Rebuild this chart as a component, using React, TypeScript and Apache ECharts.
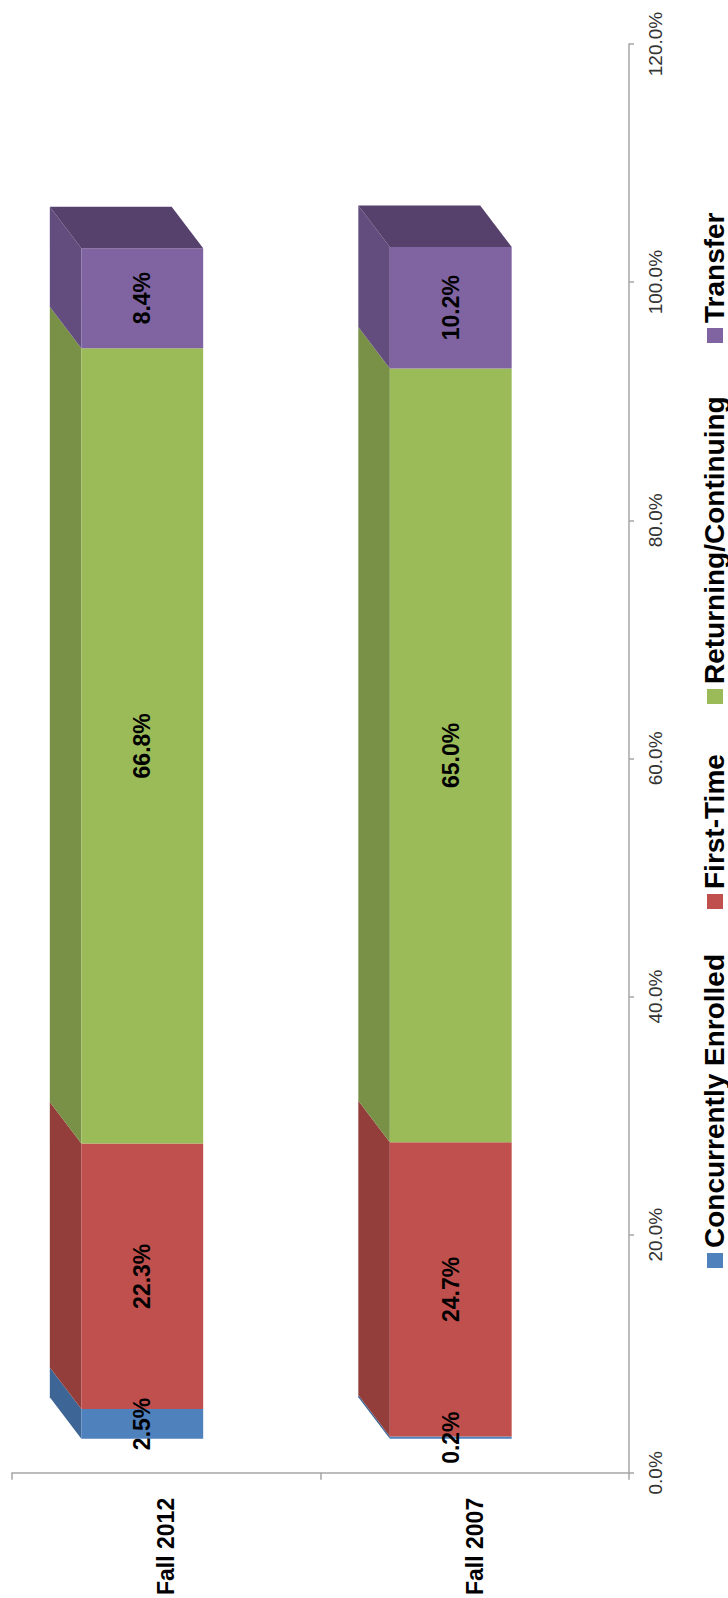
import React, { useEffect, useRef } from "react";
import * as echarts from "echarts";

// ---- data ----
const categories = ["Fall 2012", "Fall 2007"];
const seriesNames = ["Concurrently Enrolled", "First-Time", "Returning/Continuing", "Transfer"];
const concurrentlyEnrolled = [2.5, 0.2];
const firstTime = [22.3, 24.7];
const returningContinuing = [66.8, 65.0];
const transfer = [8.4, 10.2];
const valueTicks = { min: 0, max: 120, interval: 20 };

// ---- styling / layout ----
const frontColors = ["#4f81bd", "#c0504d", "#9bbb59", "#8064a2"];
const sideColors = ["#3d6595", "#943e3b", "#799147", "#624d7e"];
const topColors = ["#33547c", "#7c3432", "#65793b", "#55416c"];
const legendMarkerTop = [1253, 894, 689, 328];
const FRONT_DX = -24; // front face shift from category centre
const FRONT_DY = -34; // front face shift from axis position
const DEPTH_DX = -31.5;
const DEPTH_DY = -41.5;
const BAR_RATIO = 0.395;
const FONT = "'Liberation Sans', Arial, sans-serif";

export default function App() {
  const ref = useRef<HTMLDivElement>(null);

  useEffect(() => {
    if (!ref.current) return;
    const chart = echarts.init(ref.current, undefined, { renderer: "svg" });
    const allValues = [concurrentlyEnrolled, firstTime, returningContinuing, transfer];
    const lastIdx = allValues.length - 1;

    const series = allValues.map((vals, si) => {
      const data = vals.map((v, ci) => {
        let base = 0;
        for (let k = 0; k < si; k++) base += allValues[k][ci];
        return [ci, base, v];
      });
      return {
        type: "custom",
        name: seriesNames[si],
        encode: { x: 0, y: 1 },
        data,
        renderItem: (params: any, api: any) => {
          const ci = api.value(0);
          const base = api.value(1);
          const val = api.value(2);
          const p0 = api.coord([ci, base]);
          const p1 = api.coord([ci, base + val]);
          const band = api.size([1, 0])[0];
          const w = band * BAR_RATIO;
          const cx = p0[0] + FRONT_DX;
          const yb = p0[1] + FRONT_DY;
          const yt = p1[1] + FRONT_DY;
          const x0 = cx - w / 2;
          const x1 = cx + w / 2;
          const children: any[] = [
            {
              type: "polygon",
              shape: {
                points: [
                  [x0, yb],
                  [x0, yt],
                  [x0 + DEPTH_DX, yt + DEPTH_DY],
                  [x0 + DEPTH_DX, yb + DEPTH_DY],
                ],
              },
              style: { fill: sideColors[si] },
            },
            {
              type: "rect",
              shape: { x: x0, y: yt, width: w, height: yb - yt },
              style: { fill: frontColors[si] },
            },
          ];
          if (si === lastIdx) {
            children.push({
              type: "polygon",
              shape: {
                points: [
                  [x0, yt],
                  [x1, yt],
                  [x1 + DEPTH_DX, yt + DEPTH_DY],
                  [x0 + DEPTH_DX, yt + DEPTH_DY],
                ],
              },
              style: { fill: topColors[si] },
            });
          }
          children.push({
            type: "text",
            x: cx,
            y: (yb + yt) / 2,
            rotation: Math.PI / 2,
            z2: 100,
            style: {
              text: val.toFixed(1) + "%",
              font: `bold 23px ${FONT}`,
              fill: "#000",
              align: "center",
              verticalAlign: "middle",
            },
          });
          return { type: "group", children };
        },
      };
    });

    const graphics: any[] = [];
    seriesNames.forEach((name, i) => {
      const top = legendMarkerTop[i];
      graphics.push({
        type: "rect",
        shape: { x: 707, y: top, width: 16, height: 15 },
        style: { fill: frontColors[i] },
      });
      graphics.push({
        type: "text",
        x: 714,
        y: top - 5,
        rotation: Math.PI / 2,
        style: {
          text: name,
          font: `bold 28px ${FONT}`,
          fill: "#000",
          align: "left",
          verticalAlign: "middle",
        },
      });
    });

    chart.setOption({
      animation: false,
      backgroundColor: "#fff",
      grid: { left: 12, right: 99, top: 44, bottom: 125, containLabel: false },
      xAxis: {
        type: "category",
        data: categories,
        axisLine: { show: true, lineStyle: { color: "#a6a6a6", width: 1.5 } },
        axisTick: { show: true, length: 7, lineStyle: { color: "#a6a6a6", width: 1.5 } },
        axisLabel: {
          rotate: 90,
          margin: 25,
          color: "#000",
          fontFamily: FONT,
          fontWeight: "bold",
          fontSize: 23,
        },
        splitLine: { show: false },
      },
      yAxis: {
        type: "value",
        position: "right",
        min: valueTicks.min,
        max: valueTicks.max,
        interval: valueTicks.interval,
        axisLine: { show: true, lineStyle: { color: "#a6a6a6", width: 1.5 } },
        axisTick: { show: true, length: 5, lineStyle: { color: "#a6a6a6", width: 1.5 } },
        axisLabel: {
          rotate: 90,
          margin: 17,
          color: "#333",
          fontFamily: FONT,
          fontSize: 19,
          formatter: (v: number) => v.toFixed(1) + "%",
        },
        splitLine: { show: false },
      },
      series,
      graphic: graphics,
    });

    return () => chart.dispose();
  }, []);

  return (
    <div
      ref={ref}
      style={{ position: "fixed", left: 0, top: 0, width: 728, height: 1598, background: "#fff" }}
    />
  );
}
